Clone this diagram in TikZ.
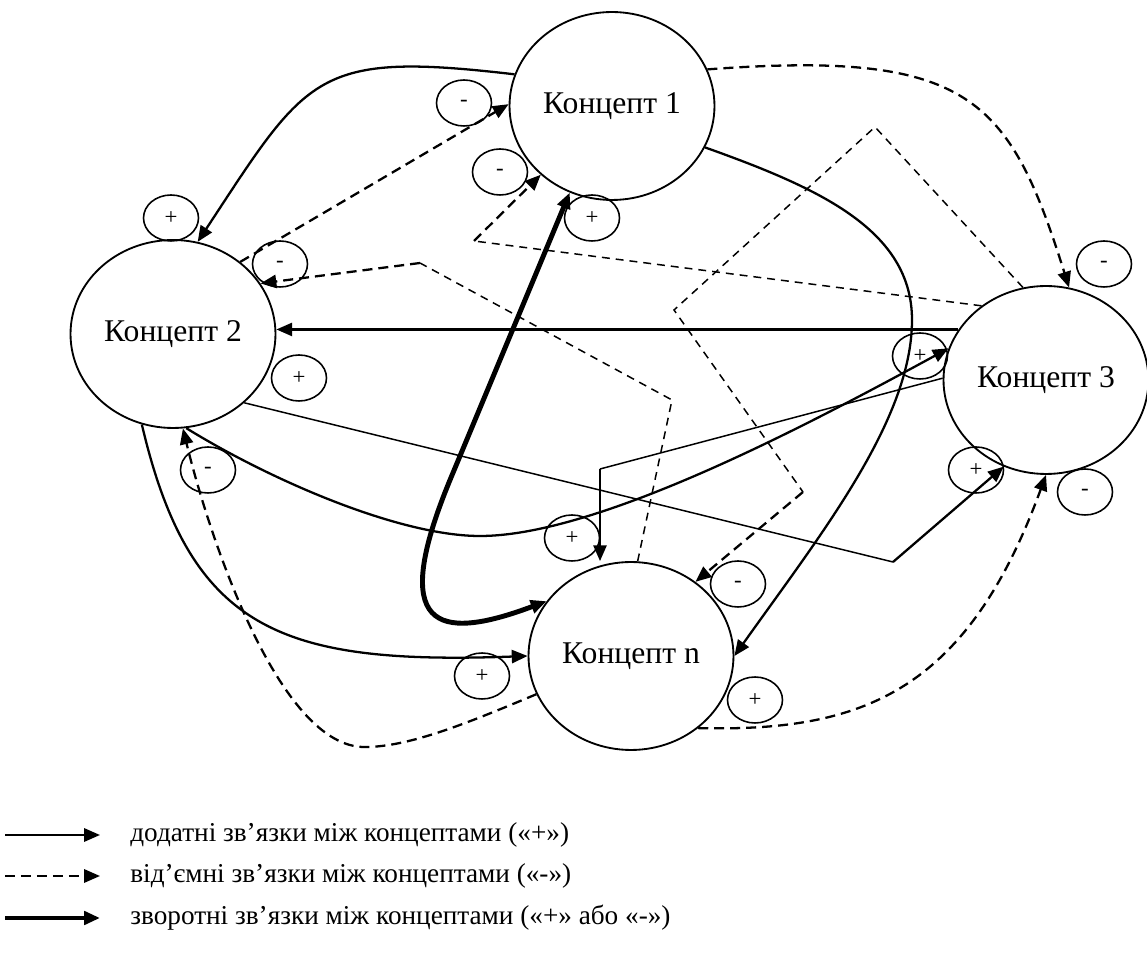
\documentclass[tikz,border=0pt]{standalone}
\usepackage{fontspec}
\setmainfont{Liberation Serif}
\usetikzlibrary{arrows.meta,shapes.geometric}
\tikzset{>={Stealth[inset=0pt,length=9pt,width=7.5pt]}}
\tikzset{
  concept/.style={draw,ellipse,line width=1.05pt,minimum width=4.1cm,minimum height=3.76cm,inner sep=0pt,font=\fontsize{18}{21}\selectfont},
  sign/.style={draw,ellipse,line width=0.9pt,minimum width=1.1cm,minimum height=0.92cm,inner sep=0pt,font=\fontsize{13}{15}\selectfont},
  poslink/.style={line width=1.3pt,->},
  neglink/.style={line width=1.3pt,dash pattern=on 5.7pt off 3.4pt,->},
  thinpos/.style={line width=0.85pt},
  thinneg/.style={line width=0.85pt,dash pattern=on 4.5pt off 3.4pt},
  fblink/.style={line width=2.8pt,<->},
  legend/.style={anchor=west,inner sep=0pt,font=\fontsize{15.5}{19}\selectfont}
}
\begin{document}
\begin{tikzpicture}[x=0.02cm,y=-0.02cm]
    \useasboundingbox (0,0) rectangle (1147,955);
    \node[concept] (k1) at (612,106) {Концепт 1};
    \node[concept] (k2) at (173,334) {Концепт 2};
    \node[concept] (k3) at (1046,380) {Концепт 3};
    \node[concept] (kn) at (631,656) {Концепт n};
    \node[sign] (s1) at (464,103) {-};
    \node[sign] (s2) at (500,172) {-};
    \node[sign] (s3) at (592,218) {+};
    \node[sign] (s4) at (171,218) {+};
    \node[sign] (s5) at (280,264) {-};
    \node[sign] (s6) at (299,378) {+};
    \node[sign] (s7) at (1104,264) {-};
    \node[sign] (s8) at (920,356) {+};
    \node[sign] (s9) at (976,470) {+};
    \node[sign] (s10) at (1085,492) {-};
    \node[sign] (s11) at (208,470) {-};
    \node[sign] (s12) at (572,538) {+};
    \node[sign] (s13) at (738,584) {-};
    \node[sign] (s14) at (482,676) {+};
    \node[sign] (s15) at (755,700) {+};
    \coordinate (c1) at (474,241);
    \coordinate (e1) at (875,127);
    \coordinate (e2) at (674,310);
    \coordinate (e3) at (803,492);
    \coordinate (f1) at (672,400);
    \coordinate (f2) at (420,263);
    \coordinate (m1) at (893,562);
    \coordinate (n1) at (600,469);
    \coordinate (h1) at (450,480);
    \coordinate (i1) at (912,320);
    \coordinate (g1) at (365,747);
    \coordinate (l1) at (480,536);
    \draw[poslink] (k1.162) .. controls (315,51) and (308,74) .. (k2.75);
    \draw[neglink] (k2.47) -- (k1.179);
    \draw[thinneg] (k3.131) -- (c1);
    \draw[neglink] (c1) -- (k1.224);
    \draw[neglink] (k1.21) .. controls (970,50) and (1009,97) .. (k3.76);
    \draw[thinneg] (k3.104) -- (e1) -- (e2) -- (e3);
    \draw[neglink] (e3) -- (kn.49);
    \draw[thinneg] (kn.86) -- (f1) -- (f2);
    \draw[neglink] (f2) -- (k2.30);
    \draw[poslink] (k3.150) -- (k3.150 -| k2.east);
    \draw[fblink] (k1.244) -- (h1) .. controls (389,628) and (435,643) .. (kn.147);
    \draw[poslink] (k1.336) .. controls (819,188) and (912,230) .. (i1) .. controls (912,420) and (821,534) .. (kn.0);
    \draw[poslink] (k2.251) .. controls (190,630) and (280,665) .. (kn.180);
    \draw[neglink] (kn.202) .. controls (470,722) and (410,747) .. (g1) .. controls (280,748) and (210,540) .. (k2.276);
    \draw[poslink] (k2.278) .. controls (272,481) and (400,536) .. (l1) .. controls (600,536) and (815,421) .. (k3.162);
    \draw[thinpos] (k2.316) -- (m1);
    \draw[poslink] (m1) -- (k3.244);
    \draw[thinpos] (k3.179) -- (n1);
    \draw[poslink] (n1) -- (n1 |- kn.north);
    \draw[neglink] (kn.313) .. controls (860,732) and (966,694) .. (k3.270);
    \coordinate (la1) at (5,835);
    \coordinate (lb1) at (100,835);
    \coordinate (la2) at (5,876);
    \coordinate (lb2) at (100,876);
    \coordinate (la3) at (5,918);
    \coordinate (lb3) at (100,918);
    \draw[poslink] (la1) -- (lb1);
    \draw[neglink] (la2) -- (lb2);
    \draw[fblink,->] (la3) -- (lb3);
    \node[legend] (t1) at (130,835) {додатні зв’язки між концептами («+»)};
    \node[legend] (t2) at (130,876) {від’ємні зв’язки між концептами («-»)};
    \node[legend] (t3) at (130,918) {зворотні зв’язки між концептами («+» або «-»)};
\end{tikzpicture}
\end{document}
